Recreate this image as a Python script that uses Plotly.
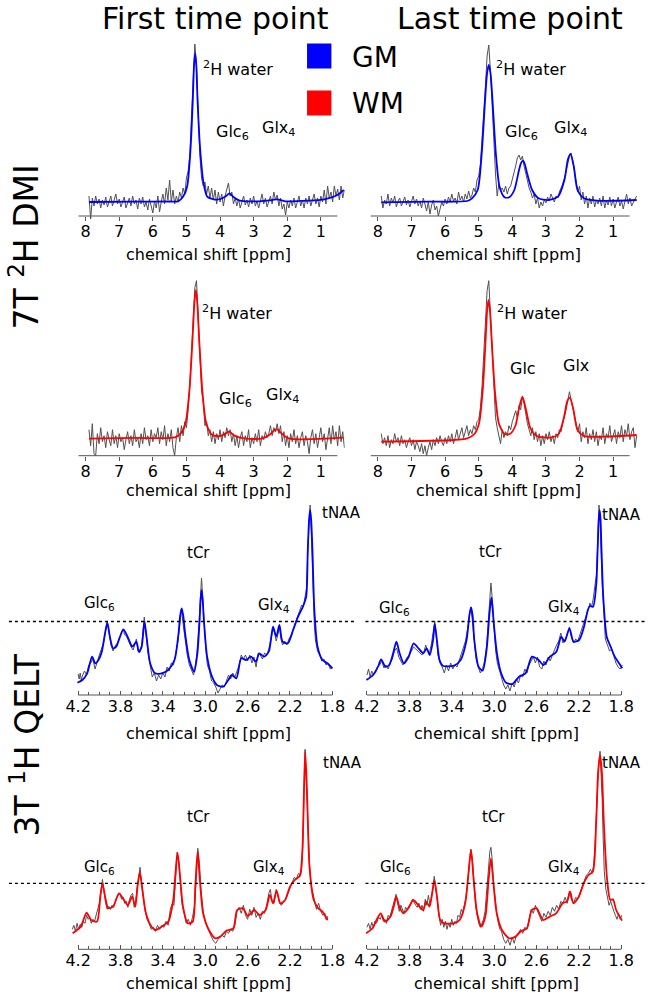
import plotly.graph_objects as go

W, H = 660, 999
FONT = "DejaVu Sans"
BLUE = "rgb(0,0,255)"
RED = "rgb(255,0,0)"
DATA_COLOR = "#505050"
AXIS_COLOR = "#555555"

# ======================= DATA =======================
# 7T 2H DMI measured spectra: sampled every 0.05 ppm from 7.90 ppm downwards
dmi_start_ppm = 7.90
dmi_step_ppm = 0.05

dmi_gm_first = [
    20, -3, 18, 10, 20, 12, 17, 8, 16, 11,
    19, 9, 14, 20, 10, 16, 22, 12, 17, 9,
    15, 19, 8, 14, 18, 10, 20, 12, 16, 7,
    18, 12, 19, 9, 14, 6, 17, 10, 3, 15,
    8, 20, 4, 14, 22, 12, 28, 16, 36, 14,
    26, 12, 20, 14, 24, 18, 28, 22, 38, 45,
    60, 100, 140, 172, 150, 95, 60, 38, 30, 34,
    22, 30, 18, 28, 16, 26, 12, 24, 14, 22,
    10, 20, 26, 33, 20, 24, 12, 18, 10, 17,
    8, 15, 20, 11, 16, 9, 18, 12, 20, 10,
    15, 8, 17, 22, 12, 18, 9, 15, 20, 12,
    24, 16, 21, 10, 18, 7, 12, 1, 14, 8,
    16, 10, 18, 8, 14, 20, 10, 16, 8, 18,
    12, 20, 10, 16, 22, 12, 18, 9, 20, 14,
    26, 12, 30, 18, 24, 14, 30, 20, 27, 16,
    30, 18, 26]

dmi_gm_last = [
    20, 8, 16, 12, 22, 10, 18, 13, 20, 9,
    15, 18, 10, 14, 19, 11, 16, 9, 14, 20,
    12, 17, 10, 15, 8, 18, 12, 5, 14, 2,
    11, 16, 6, 10, 0, 8, 14, 10, 17, 12,
    19, 14, 22, 15, 18, 12, 24, 16, 20, 14,
    22, 17, 25, 18, 21, 28, 24, 36, 40, 52,
    75, 100, 130, 160, 171, 145, 105, 70, 42, 20,
    32, 26, 28, 24, 30, 22, 28, 30, 36, 42,
    50, 58, 61, 56, 60, 50, 42, 34, 28, 24,
    18, 22, 12, 18, 8, 14, 10, 16, 13, 19,
    15, 22, 17, 14, 20, 18, 24, 28, 32, 38,
    44, 52, 60, 63, 55, 45, 38, 24, 30, 16,
    24, 12, 20, 8, 18, 12, 20, 9, 16, 12,
    18, 10, 20, 8, 16, 11, 19, 10, 17, 8,
    14, 19, 10, 15, 7, 16, 22, 12, 18, 10,
    14, 17, 20]

dmi_wm_first = [
    26, 10, 32, 2, 0, 22, 12, 28, 14, 20,
    8, 24, 16, 10, 26, 12, 20, 8, 22, 14,
    18, 6, 16, 24, 12, 20, 10, 26, 14, 18,
    8, 22, 12, 28, 16, 20, 10, 26, 14, 22,
    18, 28, 12, 24, 16, 30, 10, 22, 14, 26,
    8, 0, 18, 28, 14, 30, 20, 34, 28, 45,
    70, 105, 140, 168, 175, 140, 100, 65, 54, 30,
    34, 20, 26, 14, 24, 12, 22, 16, 26, 14,
    24, 18, 28, 20, 26, 14, 22, 10, 20, 8,
    18, 24, 10, 20, 14, 26, 8, 18, 12, 22,
    14, 26, 10, 20, 16, 24, 18, 22, 30, 20,
    28, 24, 32, 22, 30, 14, 24, 10, 20, 8,
    22, 14, 26, 12, 20, 8, 18, 24, 10, 20,
    14, 2, 18, 26, 12, 22, 8, 18, 28, 14,
    22, 6, 20, 28, 12, 30, 16, 24, 10, 30,
    14, 24, 8]

dmi_wm_last = [
    22, 12, 18, 10, 20, 8, 16, 12, 22, 14,
    18, 10, 20, 12, 16, 8, 14, 18, 10, 16,
    6, 14, 10, 4, 12, 2, 10, 0, 8, 14,
    6, 16, 10, 18, 12, 20, 14, 10, 18, 12,
    20, 14, 22, 12, 18, 26, 16, 22, 28, 18,
    24, 30, 20, 26, 22, 30, 26, 34, 36, 48,
    70, 100, 135, 165, 175, 140, 100, 60, 38, 28,
    20, 12, 26, 18, 24, 20, 30, 26, 34, 40,
    45, 38, 50, 46, 59, 52, 40, 32, 26, 20,
    28, 16, 24, 14, 22, 10, 20, 12, 22, 16,
    24, 14, 20, 12, 22, 18, 26, 24, 32, 38,
    46, 55, 64, 56, 48, 38, 30, 24, 32, 14,
    24, 18, 28, 12, 22, 16, 26, 14, 24, 10,
    20, 16, 28, 12, 22, 18, 30, 14, 20, 26,
    12, 24, 18, 30, 14, 26, 20, 32, 16, 24,
    28, 8, 20]

# 7T 2H DMI model fits: (ppm, amplitude)
dmi_gm_first_fit = [
    (7.90, 14.0), (6.5, 14.3), (5.5, 14.5), (5.25, 14.7), (5.10, 19.3), (4.98, 29.3),
    (4.88, 66), (4.81, 116), (4.775, 150), (4.74, 162.7), (4.705, 150), (4.67, 116),
    (4.59, 66), (4.49, 32.7), (4.38, 19.3), (4.19, 16.7), (3.99, 17), (3.82, 20),
    (3.72, 22.7), (3.61, 19.3), (3.41, 15.3), (2.83, 14.7), (2.45, 16), (2.30, 16.7),
    (2.06, 14.7), (1.38, 15.3), (0.90, 16.7), (0.51, 21), (0.32, 26)]

dmi_gm_last_fit = [
    (7.90, 13.7), (6.5, 14.3), (5.34, 15), (5.20, 17.7), (5.03, 26), (4.91, 62.7),
    (4.81, 116), (4.75, 143), (4.70, 151), (4.65, 143), (4.59, 116), (4.49, 62.7),
    (4.38, 29.3), (4.23, 18.7), (4.09, 18.7), (3.94, 26), (3.80, 46), (3.74, 53),
    (3.68, 55.3), (3.62, 51), (3.56, 42.7), (3.41, 26), (3.22, 17.7), (2.93, 16),
    (2.64, 19.3), (2.45, 36), (2.35, 56), (2.27, 62), (2.17, 49.3), (2.06, 26),
    (1.87, 17.7), (1.48, 15.3), (0.30, 16)]

dmi_wm_first_fit = [
    (7.90, 17), (6.5, 17.8), (5.34, 18.3), (5.17, 22.3), (5.03, 32.3), (4.91, 65.7),
    (4.81, 122.3), (4.765, 152), (4.72, 165.7), (4.675, 152), (4.62, 115.7),
    (4.52, 62.3), (4.41, 32.3), (4.23, 20.7), (3.99, 19.7), (3.83, 22.3), (3.72, 24),
    (3.59, 20.3), (3.22, 17), (2.74, 17.3), (2.54, 20.7), (2.40, 25), (2.30, 26.3),
    (2.17, 22.3), (1.96, 17.3), (0.34, 18)]

dmi_wm_last_fit = [
    (7.90, 14), (5.73, 15.7), (5.34, 17.3), (5.13, 21.7), (4.99, 32.3), (4.88, 65.7),
    (4.79, 119), (4.75, 145), (4.71, 155.7), (4.665, 145), (4.62, 119), (4.52, 65.7),
    (4.40, 32.3), (4.23, 21.7), (4.07, 21.7), (3.91, 29.7), (3.80, 47.3), (3.70, 59),
    (3.59, 45.7), (3.46, 27.3), (3.27, 19.7), (2.83, 18.3), (2.62, 21.7), (2.46, 39),
    (2.37, 54), (2.29, 58), (2.19, 47.3), (2.06, 25.7), (1.87, 19.7), (1.29, 19),
    (0.30, 20.7)]

# 3T 1H QELT measured spectra: (ppm, amplitude)
qelt_gm_first = [
    (4.20, 21), (4.19, 16), (4.18, 22), (4.17, 15), (4.16, 19), (4.14, 24), (4.12, 20),
    (4.10, 30), (4.08, 32), (4.06, 36), (4.04, 26), (4.02, 34), (4.00, 40), (3.98, 46),
    (3.96, 52), (3.94, 64), (3.925, 74), (3.91, 64), (3.89, 50), (3.87, 44), (3.85, 49),
    (3.83, 52), (3.81, 58), (3.79, 62), (3.775, 66), (3.76, 60), (3.74, 58), (3.72, 52),
    (3.70, 48), (3.68, 45), (3.66, 52), (3.65, 56), (3.635, 44), (3.62, 42), (3.60, 50),
    (3.585, 66), (3.575, 78), (3.56, 62), (3.54, 42), (3.52, 30), (3.50, 18), (3.48, 22),
    (3.46, 14), (3.44, 20), (3.42, 16), (3.40, 22), (3.38, 18), (3.36, 28), (3.34, 24),
    (3.32, 32), (3.30, 30), (3.28, 40), (3.26, 52), (3.24, 70), (3.225, 86), (3.21, 72),
    (3.19, 56), (3.17, 40), (3.15, 30), (3.13, 24), (3.11, 20), (3.10, 26), (3.08, 40),
    (3.06, 70), (3.045, 105), (3.035, 117), (3.025, 100), (3.01, 70), (2.995, 46),
    (2.98, 30), (2.96, 24), (2.94, 14), (2.92, 12), (2.90, 8), (2.88, 2), (2.86, 6),
    (2.84, 10), (2.82, 8), (2.80, 14), (2.78, 20), (2.76, 16), (2.74, 22), (2.72, 18),
    (2.70, 24), (2.68, 30), (2.66, 40), (2.64, 36), (2.62, 40), (2.60, 34), (2.58, 40),
    (2.56, 32), (2.54, 38), (2.52, 28), (2.50, 42), (2.48, 40), (2.46, 36), (2.44, 42),
    (2.42, 40), (2.40, 46), (2.38, 56), (2.36, 66), (2.345, 62), (2.33, 54), (2.315, 60),
    (2.30, 68), (2.285, 56), (2.27, 50), (2.25, 54), (2.23, 50), (2.21, 56), (2.19, 60),
    (2.17, 66), (2.15, 72), (2.13, 76), (2.11, 82), (2.09, 90), (2.075, 88), (2.06, 96),
    (2.045, 106), (2.03, 150), (2.02, 180), (2.01, 190), (2.00, 165), (1.99, 130),
    (1.98, 95), (1.97, 70), (1.96, 55), (1.94, 44), (1.92, 40), (1.90, 34), (1.88, 36),
    (1.86, 30), (1.84, 32), (1.82, 26), (1.80, 27)]

qelt_gm_last = [
    (4.20, 20), (4.185, 26), (4.17, 18), (4.155, 24), (4.14, 20), (4.12, 22), (4.10, 28),
    (4.08, 30), (4.06, 34), (4.04, 27), (4.02, 30), (4.00, 26), (3.98, 32), (3.96, 36),
    (3.94, 44), (3.92, 47), (3.90, 38), (3.88, 34), (3.86, 30), (3.84, 34), (3.82, 38),
    (3.80, 40), (3.78, 44), (3.76, 48), (3.74, 46), (3.72, 44), (3.70, 42), (3.68, 40),
    (3.66, 44), (3.645, 50), (3.63, 44), (3.61, 42), (3.59, 52), (3.575, 62), (3.56, 74),
    (3.545, 58), (3.53, 40), (3.51, 32), (3.49, 28), (3.47, 22), (3.45, 30), (3.43, 24),
    (3.41, 32), (3.39, 26), (3.37, 30), (3.35, 28), (3.33, 34), (3.31, 40), (3.29, 48),
    (3.27, 54), (3.25, 66), (3.235, 80), (3.22, 88), (3.205, 74), (3.19, 54), (3.17, 36),
    (3.15, 28), (3.13, 22), (3.11, 26), (3.09, 34), (3.07, 50), (3.055, 72), (3.045, 95),
    (3.03, 112), (3.02, 100), (3.01, 80), (3.00, 62), (2.985, 44), (2.97, 32), (2.95, 24),
    (2.93, 16), (2.91, 10), (2.89, 6), (2.87, 10), (2.85, 4), (2.83, 12), (2.81, 8),
    (2.79, 16), (2.77, 12), (2.75, 20), (2.73, 18), (2.71, 26), (2.69, 22), (2.67, 30),
    (2.65, 34), (2.63, 38), (2.61, 32), (2.59, 38), (2.57, 28), (2.55, 26), (2.53, 34),
    (2.51, 30), (2.49, 38), (2.47, 34), (2.45, 40), (2.43, 46), (2.41, 50), (2.39, 54),
    (2.37, 62), (2.35, 52), (2.33, 56), (2.31, 60), (2.29, 68), (2.27, 58), (2.25, 52),
    (2.23, 56), (2.21, 54), (2.19, 60), (2.17, 66), (2.15, 72), (2.13, 80), (2.11, 86),
    (2.095, 92), (2.08, 88), (2.065, 96), (2.05, 108), (2.035, 120), (2.02, 155),
    (2.01, 190), (2.00, 175), (1.99, 140), (1.98, 110), (1.97, 95), (1.96, 70), (1.95, 56),
    (1.93, 50), (1.91, 44), (1.89, 46), (1.87, 38), (1.85, 32), (1.83, 28), (1.81, 26),
    (1.79, 30)]

qelt_wm_first = [
    (4.255, 20), (4.24, 24), (4.225, 18), (4.21, 26), (4.195, 20), (4.18, 25), (4.165, 22),
    (4.15, 28), (4.135, 26), (4.12, 34), (4.105, 30), (4.09, 32), (4.075, 26), (4.06, 30),
    (4.045, 28), (4.03, 34), (4.015, 38), (4.00, 46), (3.985, 58), (3.97, 70), (3.955, 58),
    (3.94, 46), (3.925, 40), (3.91, 43), (3.895, 40), (3.88, 44), (3.865, 42), (3.85, 48),
    (3.835, 52), (3.82, 54), (3.805, 56), (3.79, 50), (3.775, 52), (3.76, 46), (3.745, 48),
    (3.73, 42), (3.715, 50), (3.70, 54), (3.685, 56), (3.67, 42), (3.655, 50), (3.64, 64),
    (3.625, 78), (3.615, 82), (3.60, 66), (3.585, 52), (3.57, 40), (3.55, 30), (3.53, 26),
    (3.51, 20), (3.49, 22), (3.47, 18), (3.45, 24), (3.43, 20), (3.41, 24), (3.39, 22),
    (3.37, 28), (3.35, 24), (3.33, 40), (3.31, 46), (3.295, 44), (3.28, 70), (3.265, 97),
    (3.25, 88), (3.235, 66), (3.22, 46), (3.20, 36), (3.18, 26), (3.16, 30), (3.14, 24),
    (3.12, 32), (3.10, 44), (3.085, 70), (3.07, 101), (3.055, 86), (3.04, 60), (3.02, 38),
    (3.00, 28), (2.98, 22), (2.96, 16), (2.94, 12), (2.92, 8), (2.90, 6), (2.88, 10),
    (2.86, 12), (2.84, 14), (2.82, 12), (2.80, 18), (2.78, 16), (2.76, 20), (2.74, 18),
    (2.72, 24), (2.70, 38), (2.68, 42), (2.66, 36), (2.64, 44), (2.62, 34), (2.60, 30),
    (2.58, 40), (2.56, 34), (2.54, 42), (2.52, 32), (2.50, 36), (2.48, 30), (2.46, 38),
    (2.44, 36), (2.42, 44), (2.40, 56), (2.385, 60), (2.37, 48), (2.35, 46), (2.33, 60),
    (2.315, 54), (2.30, 46), (2.28, 44), (2.26, 48), (2.24, 50), (2.22, 56), (2.20, 62),
    (2.18, 68), (2.16, 72), (2.14, 70), (2.12, 76), (2.10, 74), (2.09, 80), (2.08, 100),
    (2.07, 160), (2.058, 200), (2.045, 165), (2.03, 120), (2.015, 84), (2.00, 64),
    (1.985, 56), (1.97, 48), (1.95, 40), (1.93, 46), (1.91, 38), (1.89, 34), (1.87, 36),
    (1.86, 30), (1.85, 33), (1.845, 29)]

qelt_wm_last = [
    (4.20, 22), (4.185, 26), (4.17, 20), (4.155, 27), (4.14, 22), (4.125, 28), (4.11, 26),
    (4.09, 32), (4.075, 30), (4.06, 34), (4.045, 28), (4.03, 30), (4.015, 26), (4.00, 34),
    (3.985, 32), (3.97, 38), (3.955, 42), (3.94, 50), (3.925, 55), (3.91, 46), (3.895, 38),
    (3.88, 44), (3.865, 40), (3.85, 36), (3.835, 42), (3.82, 40), (3.80, 44), (3.785, 46),
    (3.77, 50), (3.755, 46), (3.74, 44), (3.725, 42), (3.71, 46), (3.695, 40), (3.68, 44),
    (3.665, 38), (3.65, 50), (3.635, 44), (3.62, 54), (3.605, 44), (3.59, 52), (3.575, 62),
    (3.565, 73), (3.55, 62), (3.535, 48), (3.52, 34), (3.505, 24), (3.49, 30), (3.475, 22),
    (3.46, 28), (3.445, 20), (3.43, 26), (3.415, 22), (3.40, 30), (3.385, 24), (3.37, 28),
    (3.355, 26), (3.34, 34), (3.325, 32), (3.31, 40), (3.295, 36), (3.28, 44), (3.265, 52),
    (3.25, 66), (3.235, 88), (3.22, 100), (3.205, 90), (3.19, 64), (3.175, 44), (3.16, 34),
    (3.145, 26), (3.13, 22), (3.115, 26), (3.10, 30), (3.085, 38), (3.07, 58), (3.055, 84),
    (3.04, 98), (3.03, 102), (3.02, 92), (3.005, 66), (2.99, 48), (2.975, 36), (2.96, 26),
    (2.945, 20), (2.93, 18), (2.91, 10), (2.89, 6), (2.87, 10), (2.85, 4), (2.83, 12),
    (2.81, 6), (2.79, 14), (2.77, 16), (2.75, 20), (2.73, 16), (2.71, 22), (2.69, 20),
    (2.67, 30), (2.65, 40), (2.63, 36), (2.61, 44), (2.59, 38), (2.57, 32), (2.55, 28),
    (2.53, 36), (2.51, 32), (2.49, 38), (2.47, 34), (2.45, 42), (2.43, 38), (2.41, 44),
    (2.39, 40), (2.37, 48), (2.35, 46), (2.33, 52), (2.31, 46), (2.29, 58), (2.27, 50),
    (2.25, 46), (2.23, 52), (2.21, 50), (2.19, 56), (2.17, 62), (2.15, 68), (2.13, 74),
    (2.11, 76), (2.09, 80), (2.075, 76), (2.06, 84), (2.045, 110), (2.03, 150), (2.015, 180),
    (2.00, 198), (1.99, 180), (1.98, 150), (1.97, 110), (1.96, 78), (1.945, 60), (1.93, 52),
    (1.915, 44), (1.90, 48), (1.885, 42), (1.87, 38), (1.855, 34), (1.84, 30), (1.825, 36),
    (1.81, 30), (1.795, 34)]

# 3T 1H QELT model fits: (ppm, amplitude)
qelt_gm_first_fit = [
    (4.206, 12.3), (4.16, 15), (4.114, 21.7), (4.068, 38.3), (4.038, 31.7), (4.007, 35),
    (3.976, 43.3), (3.946, 61.7), (3.924, 72.3), (3.90, 58.3), (3.87, 46.7), (3.84, 48.3),
    (3.81, 56.7), (3.773, 65.7), (3.733, 58.3), (3.687, 48.3), (3.65, 53.3), (3.626, 43.3),
    (3.60, 48.3), (3.574, 73.3), (3.55, 55), (3.52, 31.7), (3.473, 21.7), (3.412, 21.7),
    (3.35, 25), (3.29, 35), (3.252, 61.7), (3.237, 79), (3.222, 86.7), (3.207, 79),
    (3.19, 61.7), (3.15, 35), (3.105, 23.3), (3.074, 41.7), (3.053, 75), (3.044, 95),
    (3.035, 105), (3.024, 95), (3.013, 75), (2.982, 38.3), (2.936, 18.3), (2.89, 10),
    (2.83, 8.3), (2.782, 15), (2.75, 20), (2.706, 16.7), (2.66, 36.7), (2.614, 35),
    (2.568, 38.3), (2.522, 33.3), (2.49, 41.7), (2.445, 38.3), (2.40, 43.3), (2.36, 68.3),
    (2.33, 58.3), (2.30, 70), (2.27, 53.3), (2.22, 51.7), (2.17, 65), (2.124, 78.3),
    (2.078, 88.3), (2.047, 98.3), (2.032, 145), (2.02, 175), (2.01, 185), (2.00, 175),
    (1.988, 145), (1.97, 85), (1.94, 48.3), (1.893, 35), (1.847, 31.7), (1.80, 26.7)]

qelt_gm_last_fit = [
    (4.205, 15), (4.142, 20), (4.096, 28.3), (4.066, 35.7), (4.026, 28.3), (3.99, 30),
    (3.953, 41.7), (3.922, 53.3), (3.892, 41.7), (3.852, 31.7), (3.806, 38.3), (3.76, 51.7),
    (3.714, 46.7), (3.668, 41.7), (3.637, 46.7), (3.607, 40), (3.576, 55), (3.56, 71),
    (3.54, 55), (3.515, 35), (3.485, 29.3), (3.377, 29.3), (3.316, 35), (3.26, 55),
    (3.233, 80), (3.218, 87.7), (3.203, 80), (3.187, 55), (3.147, 28.3), (3.108, 24.3),
    (3.071, 45), (3.046, 78.3), (3.035, 90), (3.025, 97.3), (3.015, 88), (3.003, 71.7),
    (2.973, 41.7), (2.933, 21.7), (2.887, 12.3), (2.826, 11), (2.765, 18.3), (2.703, 21.7),
    (2.642, 38.3), (2.58, 35), (2.534, 30), (2.473, 38.3), (2.412, 43.3), (2.366, 58.3),
    (2.335, 53.3), (2.289, 66.7), (2.25, 53.3), (2.197, 55), (2.151, 68.3), (2.115, 85),
    (2.096, 89), (2.066, 88.3), (2.035, 111.7), (2.023, 145), (2.013, 175), (2.004, 185),
    (1.995, 175), (1.986, 145), (1.968, 95), (1.937, 58.3), (1.90, 48.3), (1.861, 38.3),
    (1.82, 31.7), (1.79, 26.7)]

qelt_wm_first_fit = [
    (4.252, 16), (4.175, 22.7), (4.12, 36.7), (4.077, 29.3), (4.022, 27.7), (3.99, 52.7),
    (3.97, 66), (3.945, 52.7), (3.915, 41), (3.87, 42.7), (3.814, 56), (3.777, 51),
    (3.73, 44.3), (3.69, 52.7), (3.66, 42.7), (3.639, 62.7), (3.618, 76.7), (3.593, 59.3),
    (3.563, 37.7), (3.517, 24.3), (3.47, 19.3), (3.41, 22.7), (3.348, 27.7), (3.302, 49.3),
    (3.281, 76), (3.262, 96.7), (3.24, 76), (3.21, 42.7), (3.164, 26), (3.118, 27.7),
    (3.094, 62.7), (3.072, 97.7), (3.051, 69.3), (3.02, 36), (2.965, 19.3), (2.904, 11),
    (2.858, 12.7), (2.797, 18.7), (2.735, 21), (2.699, 39.3), (2.644, 41), (2.598, 33.3),
    (2.536, 39.3), (2.49, 34.3), (2.43, 39.3), (2.39, 54.3), (2.36, 46), (2.327, 58.7),
    (2.29, 46), (2.246, 49.3), (2.20, 62.7), (2.154, 69.3), (2.108, 73.3), (2.083, 99.3),
    (2.068, 159.3), (2.056, 197.7), (2.04, 159.3), (2.016, 82.7), (1.976, 49.3),
    (1.933, 41), (1.893, 37.7), (1.847, 29.3)]

qelt_wm_last_fit = [
    (4.208, 16), (4.147, 21), (4.11, 29.3), (4.07, 36), (4.03, 27.7), (3.978, 32.7),
    (3.947, 42.7), (3.923, 52.7), (3.895, 42.7), (3.855, 36), (3.809, 41), (3.763, 49.3),
    (3.717, 44.3), (3.671, 39.3), (3.64, 47.7), (3.61, 42.7), (3.585, 56), (3.564, 69.3),
    (3.539, 52.7), (3.509, 29.3), (3.472, 26), (3.38, 26), (3.325, 29.3), (3.273, 46),
    (3.242, 76), (3.218, 99.3), (3.193, 69.3), (3.16, 36), (3.12, 22.7), (3.083, 32.7),
    (3.052, 69.3), (3.03, 91), (3.009, 69.3), (2.975, 36), (2.926, 19.3), (2.858, 11),
    (2.797, 12.7), (2.751, 17.7), (2.69, 21), (2.644, 39.3), (2.598, 41), (2.537, 29.3),
    (2.475, 32.7), (2.414, 36), (2.353, 46), (2.313, 47.7), (2.282, 57.7), (2.252, 46),
    (2.20, 52.7), (2.154, 66), (2.108, 74.3), (2.068, 77.7), (2.037, 126), (2.019, 176),
    (2.00, 194.3), (1.982, 176), (1.964, 126), (1.933, 69.3), (1.903, 49.3), (1.878, 50),
    (1.848, 39.3), (1.792, 28.7)]

dmi_ticks = [8, 7, 6, 5, 4, 3, 2, 1]
qelt_ticks = [4.2, 3.8, 3.4, 3.0, 2.6, 2.2, 1.8]
column_titles = ["First time point", "Last time point"]
row_titles = ["7T <sup>2</sup>H DMI", "3T <sup>1</sup>H QELT"]
legend_labels = ["GM", "WM"]

# ======================= LAYOUT GEOMETRY (pixels) =======================
row_axis_px = [216, 455.7, 695, 949.3]
row_ymax = [182, 182, 198, 206]
Y_BELOW = 10

geom = {
    "dmi": dict(ref_ppm=8.0, ref_px=[81.7, 381.7], scale=34.5, rng=(8.22, 0.29),
                line=(8.215, 0.51)),
    "qelt": dict(ref_ppm=4.2, ref_px=[74.0, 370.5], scale=108.75, rng=(4.265, 1.78),
                 line=(4.2, 1.8)),
}


def dmi_xy(values):
    xs = [round(dmi_start_ppm - dmi_step_ppm * i, 3) for i in range(len(values))]
    return xs, values


def pairs(p):
    return [a for a, _ in p], [b for _, b in p]


panels = [
    dict(row=0, col=0, kind="dmi", data=dmi_xy(dmi_gm_first), fit=pairs(dmi_gm_first_fit), color=BLUE),
    dict(row=0, col=1, kind="dmi", data=dmi_xy(dmi_gm_last), fit=pairs(dmi_gm_last_fit), color=BLUE),
    dict(row=1, col=0, kind="dmi", data=dmi_xy(dmi_wm_first), fit=pairs(dmi_wm_first_fit), color=RED),
    dict(row=1, col=1, kind="dmi", data=dmi_xy(dmi_wm_last), fit=pairs(dmi_wm_last_fit), color=RED),
    dict(row=2, col=0, kind="qelt", data=pairs(qelt_gm_first), fit=pairs(qelt_gm_first_fit), color=BLUE),
    dict(row=2, col=1, kind="qelt", data=pairs(qelt_gm_last), fit=pairs(qelt_gm_last_fit), color=BLUE),
    dict(row=3, col=0, kind="qelt", data=pairs(qelt_wm_first), fit=pairs(qelt_wm_first_fit), color=RED),
    dict(row=3, col=1, kind="qelt", data=pairs(qelt_wm_last), fit=pairs(qelt_wm_last_fit), color=RED),
]


def px_x(px):
    return px / W


def px_y(py):
    return 1 - py / H


fig = go.Figure()
layout = dict(
    width=W, height=H, margin=dict(l=0, r=0, t=0, b=0),
    paper_bgcolor="white", plot_bgcolor="rgba(0,0,0,0)",
    showlegend=False, font=dict(family=FONT, color="black"),
)
shapes = []
annotations = []

for i, p in enumerate(panels):
    k = i + 1
    xa = "x" if k == 1 else f"x{k}"
    ya = "y" if k == 1 else f"y{k}"
    xkey = "xaxis" if k == 1 else f"xaxis{k}"
    ykey = "yaxis" if k == 1 else f"yaxis{k}"
    g = geom[p["kind"]]
    ref_px = g["ref_px"][p["col"]]
    left = ref_px + (g["ref_ppm"] - g["rng"][0]) * g["scale"]
    right = ref_px + (g["ref_ppm"] - g["rng"][1]) * g["scale"]
    ax_px = row_axis_px[p["row"]]
    ymax = row_ymax[p["row"]]

    fig.add_trace(go.Scatter(x=p["data"][0], y=p["data"][1], mode="lines",
                             line=dict(color=DATA_COLOR, width=1),
                             xaxis=xa, yaxis=ya, hoverinfo="skip"))
    fig.add_trace(go.Scatter(x=p["fit"][0], y=p["fit"][1], mode="lines",
                             line=dict(color=p["color"], width=1.8, shape="spline", smoothing=0.7),
                             xaxis=xa, yaxis=ya, hoverinfo="skip"))

    xax = dict(domain=[px_x(left), px_x(right)], range=list(g["rng"]), anchor="free",
               position=px_y(ax_px), showgrid=False, zeroline=False, showline=False,
               tickfont=dict(family=FONT, size=16, color="black"),
               tickcolor=AXIS_COLOR, tickwidth=1, fixedrange=True)
    if p["kind"] == "dmi":
        xax.update(tickmode="array", tickvals=dmi_ticks, ticktext=[str(t) for t in dmi_ticks],
                   ticks="outside", ticklen=4, ticklabelstandoff=-3)
    else:
        xax.update(tickmode="array", tickvals=qelt_ticks, ticktext=[f"{t:.1f}" for t in qelt_ticks],
                   ticks="inside", ticklen=4, ticklabelstandoff=0,
                   minor=dict(tick0=1.8, dtick=0.1, ticks="inside", ticklen=3,
                              tickcolor=AXIS_COLOR, showgrid=False))
    layout[xkey] = xax
    layout[ykey] = dict(domain=[px_y(ax_px + Y_BELOW), px_y(ax_px - ymax)], range=[-Y_BELOW, ymax],
                        anchor=xa, visible=False, fixedrange=True)

    shapes.append(dict(type="line", xref=xa, yref=ya, x0=g["line"][0], x1=g["line"][1],
                       y0=0, y1=0, line=dict(color=AXIS_COLOR, width=1)))
    # axis title
    title_x = [207.5, 506][p["col"]] if p["kind"] == "dmi" else [207.5, 503.5][p["col"]]
    title_y = [254, 490, 733, 983][p["row"]]
    annotations.append(dict(text="chemical shift [ppm]", x=px_x(title_x), y=px_y(title_y),
                            xref="paper", yref="paper", showarrow=False,
                            xanchor="center", yanchor="middle",
                            font=dict(family=FONT, size=16, color="black")))

# dotted reference lines in the QELT rows
for yline in [621.5, 883.3]:
    for x0, x1 in [(3, 360), (369, 656)]:
        shapes.append(dict(type="line", xref="paper", yref="paper", x0=px_x(x0), x1=px_x(x1),
                           y0=px_y(yline), y1=px_y(yline),
                           line=dict(color="black", width=1.3, dash="dot")))

# peak labels (text, x_px, y_px, size)
peak_labels = [
    ("<sup>2</sup>H water", 238, 68, 16), ("Glc<sub>6</sub>", 232, 132, 16), ("Glx<sub>4</sub>", 280, 128, 16),
    ("<sup>2</sup>H water", 539, 68, 16), ("Glc<sub>6</sub>", 529, 132, 16), ("Glx<sub>4</sub>", 579, 128, 16),
    ("<sup>2</sup>H water", 237.5, 313, 16), ("Glc<sub>6</sub>", 236, 399, 16), ("Glx<sub>4</sub>", 284, 395, 16),
    ("<sup>2</sup>H water", 540, 313, 16), ("Glc", 531, 368, 16), ("Glx", 585, 365, 16),
    ("tNAA", 344, 513, 15), ("tCr", 197.5, 553, 15), ("Glc<sub>6</sub>", 96, 603, 15), ("Glx<sub>4</sub>", 275, 605, 15),
    ("tNAA", 632, 515, 15), ("tCr", 497, 552, 15), ("Glc<sub>6</sub>", 399, 608, 15), ("Glx<sub>4</sub>", 573, 607, 15),
    ("tNAA", 345, 763, 15), ("tCr", 198, 817, 15), ("Glc<sub>6</sub>", 96, 867, 15), ("Glx<sub>4</sub>", 270, 867, 15),
    ("tNAA", 632, 763, 15), ("tCr", 500, 817, 15), ("Glc<sub>6</sub>", 400, 867, 15), ("Glx<sub>4</sub>", 573, 867, 15),
]
for text, xp, yp, sz in peak_labels:
    annotations.append(dict(text=text, x=px_x(xp), y=px_y(yp), xref="paper", yref="paper",
                            showarrow=False, xanchor="center", yanchor="middle",
                            font=dict(family=FONT, size=sz, color="black")))

# column titles
for text, xp in zip(column_titles, [215, 517]):
    annotations.append(dict(text=text, x=px_x(xp), y=px_y(18), xref="paper", yref="paper",
                            showarrow=False, xanchor="center", yanchor="middle",
                            font=dict(family=FONT, size=30, color="black")))
# row titles
for text, yp in zip(row_titles, [247, 745]):
    annotations.append(dict(text=text, x=px_x(20), y=px_y(yp), xref="paper", yref="paper",
                            showarrow=False, xanchor="center", yanchor="middle", textangle=-90,
                            font=dict(family=FONT, size=33, color="black")))
# legend
for text, color, yc in zip(legend_labels, [BLUE, RED], [56, 103]):
    shapes.append(dict(type="rect", xref="paper", yref="paper", x0=px_x(309), x1=px_x(334),
                       y0=px_y(yc + 12.5), y1=px_y(yc - 12.5), fillcolor=color,
                       line=dict(width=0)))
    annotations.append(dict(text=text, x=px_x(353), y=px_y(yc + 1), xref="paper", yref="paper",
                            showarrow=False, xanchor="left", yanchor="middle",
                            font=dict(family=FONT, size=28, color="black")))

layout["shapes"] = shapes
layout["annotations"] = annotations
fig.update_layout(**layout)
fig.write_html("out.html", config={"displayModeBar": False},
               post_script="document.body.style.margin='0px';document.body.style.overflow='hidden';")
